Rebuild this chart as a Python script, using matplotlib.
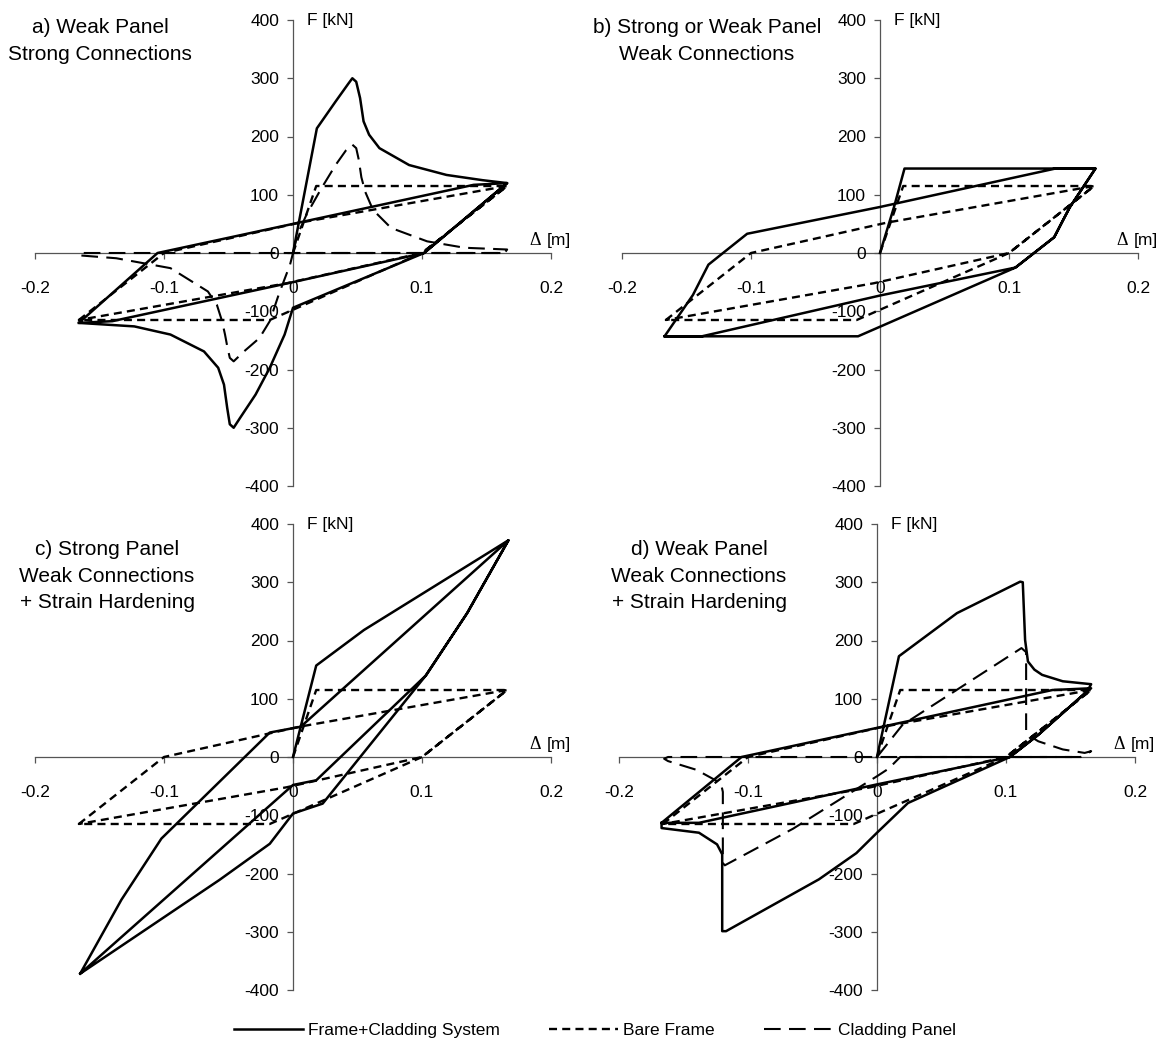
import matplotlib.pyplot as plt

plt.rcParams['font.family'] = ['Liberation Sans', 'DejaVu Sans']
plt.rcParams['axes.unicode_minus'] = False

# bare frame response (same in all four cases)
bare_x = [0, 0.018, 0.166, 0.100, -0.018, -0.166, -0.100, 0.005, 0.166, 0.100, -0.005, -0.166]
bare_y = [0, 115, 115, 0, -115, -115, 0, 52, 115, 0, -52, -115]

# a) weak panel, strong connections
a_sys_x = [0, 0.0185, 0.033, 0.043, 0.046, 0.049, 0.052, 0.0547, 0.059, 0.067, 0.090, 0.119, 0.147, 0.166,
           0.1016, 0.0, -0.0065, -0.018, -0.029, -0.041, -0.046, -0.049, -0.051, -0.0535, -0.058, -0.069,
           -0.095, -0.123, -0.166, -0.105, 0.0, 0.140, 0.166, 0.1016, 0.0, -0.140, -0.166]
a_sys_y = [0, 214, 260, 291, 300, 294, 266, 226, 203, 180, 151, 134, 125, 120,
           0, -94, -140, -197, -243, -283, -300, -294, -266, -226, -197, -169,
           -140, -126, -120, 0, 50, 117, 120, 0, -50, -117, -120]
a_pan_x = [0, 0.0034, 0.0105, 0.022, 0.033, 0.041, 0.046, 0.049, 0.051, 0.053, 0.056, 0.062, 0.076, 0.104,
           0.133, 0.166, 0.164, 0.0, -0.0023, -0.011, -0.018, -0.026, -0.038, -0.046, -0.049, -0.051,
           -0.0527, -0.055, -0.059, -0.066, -0.095, -0.137, -0.166, -0.164, 0.166]
a_pan_y = [0, 31, 66, 111, 151, 176, 186, 180, 160, 130, 105, 74, 43, 20,
           9, 6, 0, 0, -20, -71, -117, -146, -169, -186, -180, -160,
           -140, -117, -89, -66, -26, -9, -4, 0, 0]

# b) strong or weak panel, weak connections
b_sys_x = [0, 0.011, 0.019, 0.167, 0.147, 0.135, 0.105, -0.017, -0.167, -0.145, -0.133, -0.103, 0.0,
           0.136, 0.167, 0.147, 0.135, 0.105, 0.0, -0.138, -0.167]
b_sys_y = [0, 80, 145, 145, 78, 27, -25, -143, -143, -72, -20, 33, 79,
           145, 145, 78, 27, -25, -73, -143, -143]

# c) strong panel, weak connections, strain hardening
c_sys_x = [0, 0.018, 0.055, 0.167, 0.135, 0.103, 0.023, 0.0, -0.018, -0.057, -0.165, -0.133, -0.102,
           -0.018, 0.006, 0.167, 0.135, 0.103, 0.018, 0.0, -0.165]
c_sys_y = [0, 157, 218, 372, 247, 140, -80, -97, -149, -211, -372, -245, -140,
           42, 52, 372, 247, 140, -40, -48, -372]

# d) weak panel, weak connections, strain hardening
d_sys_x = [0, 0.017, 0.062, 0.111, 0.113, 0.1148, 0.117, 0.122, 0.128, 0.144, 0.166, 0.163, 0.125, 0.103,
           0.024, 0.0, -0.016, -0.045, -0.117, -0.120, -0.120, -0.124, -0.138, -0.167, -0.167, -0.105, 0.0,
           0.136, 0.166, 0.163, 0.125, 0.103, 0.0, -0.138, -0.167]
d_sys_y = [0, 173, 247, 301, 300, 201, 164, 150, 141, 130, 125, 113, 38, 0,
           -79, -130, -165, -210, -299, -299, -167, -150, -130, -122, -113, 0, 50,
           115, 118, 113, 38, 0, -47, -113, -113]
d_pan_x = [0, 0.0197, 0.112, 0.1156, 0.1156, 0.117, 0.125, 0.144, 0.161, 0.166, 0.158, 0.018, 0.009, 0.0,
           -0.065, -0.118, -0.1195, -0.1195, -0.121, -0.14, -0.162, -0.165, -0.162, 0.158]
d_pan_y = [0, 55, 187, 180, 44, 38, 27, 13, 7, 10, 0, 0, -20, -33,
           -123, -186, -182, -60, -45, -22, -7, -3, 0, 0]

titles = ['a) Weak Panel\nStrong Connections',
          'b) Strong or Weak Panel\nWeak Connections',
          'c) Strong Panel\nWeak Connections\n+ Strain Hardening',
          'd) Weak Panel\nWeak Connections\n+ Strain Hardening']
x_ticks = [-0.2, -0.1, 0, 0.1, 0.2]
x_labels = ['-0.2', '-0.1', '0', '0.1', '0.2']
y_ticks = [-400, -300, -200, -100, 0, 100, 200, 300, 400]

W, H = 1166, 1048
SOLID = dict(color='black', lw=1.8, ls='-')
BARE = dict(color='black', lw=1.7, ls=(0, (3.4, 2.2)))
PANEL = dict(color='black', lw=1.5, ls=(0, (8, 4)))

fig = plt.figure(figsize=(W / 100, H / 100), dpi=100)


def add_axes_px(left, right, top, bottom):
    return fig.add_axes([left / W, 1 - bottom / H, (right - left) / W, (bottom - top) / H])


def draw_panel(ax, sys_xy, pan_xy, title, title_xy):
    ax.plot(sys_xy[0], sys_xy[1], label='Frame+Cladding System', **SOLID)
    ax.plot(bare_x, bare_y, label='Bare Frame', **BARE)
    if pan_xy is not None:
        ax.plot(pan_xy[0], pan_xy[1], label='Cladding Panel', **PANEL)

    ax.set_xlim(-0.2, 0.2)
    ax.set_ylim(-400, 400)
    for s in ['top', 'right']:
        ax.spines[s].set_visible(False)
    ax.spines['left'].set_position(('data', 0))
    ax.spines['bottom'].set_position(('data', 0))
    for s in ['left', 'bottom']:
        ax.spines[s].set_color('#555555')
        ax.spines[s].set_linewidth(0.9)
        ax.spines[s].set_zorder(0)
    ax.set_xticks(x_ticks)
    ax.set_xticklabels(x_labels)
    ax.set_yticks(y_ticks)
    ax.tick_params(axis='x', direction='out', length=4, width=0.9, color='#555555', pad=16, labelsize=12.5)
    ax.tick_params(axis='y', direction='out', length=4, width=0.9, color='#555555', pad=6, labelsize=12.5)
    ax.patch.set_visible(False)

    ax.text(0.011, 400, 'F [kN]', fontsize=12.5, ha='left', va='center')
    ax.text(0.183, 22, 'Δ', fontsize=13, ha='left', va='center', family='Liberation Serif')
    ax.text(0.197, 22, '[m]', fontsize=12.5, ha='left', va='center', clip_on=False)
    fig.text(title_xy[0] / W, 1 - title_xy[1] / H, title, fontsize=15, ha='center', va='top',
             multialignment='center', linespacing=1.5)


ax_a = add_axes_px(35, 551, 20, 486)
ax_b = add_axes_px(622, 1138, 20, 486)
ax_c = add_axes_px(35, 551, 524, 990)
ax_d = add_axes_px(619, 1135, 524, 990)

draw_panel(ax_a, (a_sys_x, a_sys_y), (a_pan_x, a_pan_y), titles[0], (100, 18))
draw_panel(ax_b, (b_sys_x, b_sys_y), None, titles[1], (707, 18))
draw_panel(ax_c, (c_sys_x, c_sys_y), None, titles[2], (107, 540))
draw_panel(ax_d, (d_sys_x, d_sys_y), (d_pan_x, d_pan_y), titles[3], (699, 540))

handles, labels = ax_a.get_legend_handles_labels()
fig.legend(handles, labels, loc='center', bbox_to_anchor=(595 / W, 1 - 1030 / H), ncol=3,
           frameon=False, fontsize=12.5, handlelength=4.0, handletextpad=0.3, columnspacing=2.8)

plt.savefig('out.png', dpi=100)
